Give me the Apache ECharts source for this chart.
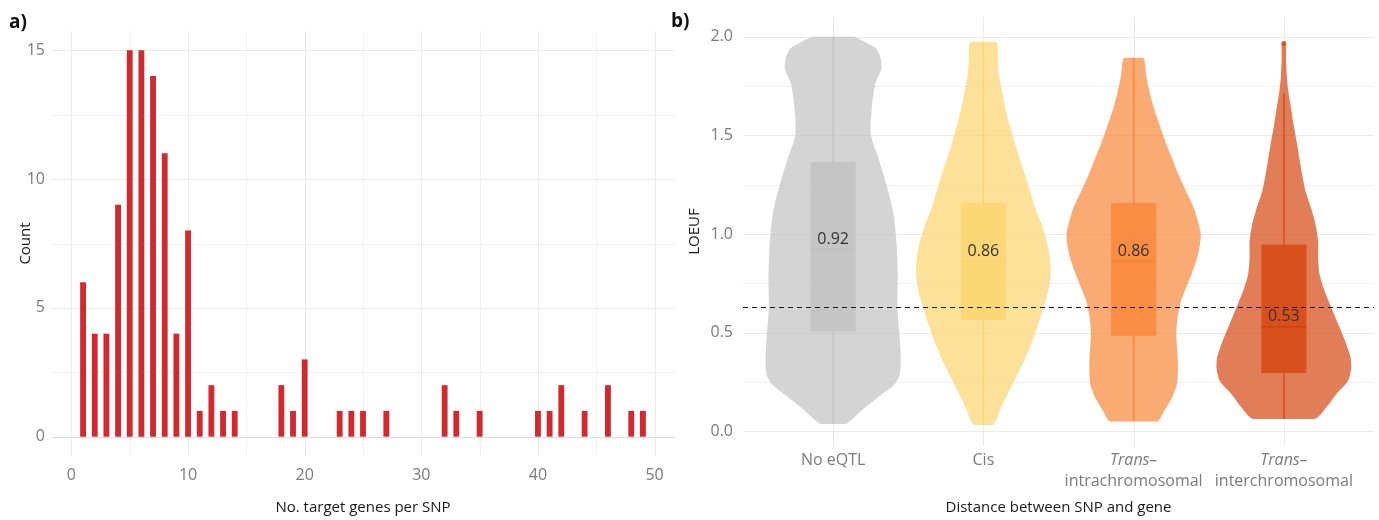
<!DOCTYPE html>
<html><head><meta charset="utf-8">
<script src="https://cdn.jsdelivr.net/npm/echarts@6/dist/echarts.min.js"></script>
<style>html,body{margin:0;padding:0;background:#fff}#c{width:1379px;height:520px}</style>
</head><body><div id="c"></div>
<script>
// ---------- Panel a) data ----------
const targetGenes = [1,2,3,4,5,6,7,8,9,10,11,12,13,14,18,19,20,23,24,25,27,32,33,35,40,41,42,44,46,48,49];
const snpCounts   = [6,4,4,9,15,15,14,11,4,8,1,2,1,1,2,1,3,1,1,1,1,2,1,1,1,1,2,1,2,1,1];
const histXTicks = [0,10,20,30,40,50];
const histXMinor = [5,15,25,35,45];
const histYTicks = [0,5,10,15];
const histYMinor = [2.5,7.5,12.5];

// ---------- Panel b) data ----------
const categories = ['No eQTL','Cis','Trans–intrachromosomal','Trans–interchromosomal'];
const categoryPos = [1,2,3,4];
const loeufTicks = [0,0.5,1,1.5,2];
const loeufMinor = [0.25,0.75,1.25,1.75];
// violin outlines: [LOEUF, half width (category units)] from top to bottom
const violinNoEqtl = [[2.0,0.132],[1.97,0.22],[1.94,0.285],[1.89,0.317],[1.84,0.321],[1.756,0.279],[1.638,0.257],[1.503,0.251],[1.385,0.301],[1.25,0.355],[1.115,0.399],[0.964,0.421],[0.795,0.430],[0.627,0.428],[0.458,0.444],[0.374,0.450],[0.29,0.444],[0.239,0.410],[0.172,0.299],[0.104,0.188],[0.037,0.082]];
const violinCis = [[1.975,0.086],[1.89,0.096],[1.806,0.104],[1.722,0.125],[1.638,0.146],[1.553,0.175],[1.469,0.206],[1.385,0.240],[1.3,0.277],[1.217,0.311],[1.132,0.344],[1.048,0.388],[0.964,0.421],[0.88,0.444],[0.795,0.448],[0.711,0.432],[0.627,0.401],[0.543,0.366],[0.458,0.326],[0.374,0.281],[0.29,0.228],[0.206,0.173],[0.121,0.118],[0.032,0.065]];
const violinTransIntra = [[1.894,0.063],[1.806,0.083],[1.722,0.105],[1.638,0.135],[1.553,0.173],[1.469,0.211],[1.385,0.255],[1.3,0.299],[1.217,0.349],[1.132,0.401],[1.048,0.434],[0.997,0.447],[0.913,0.434],[0.829,0.401],[0.745,0.359],[0.66,0.315],[0.576,0.293],[0.492,0.284],[0.408,0.291],[0.324,0.295],[0.239,0.288],[0.172,0.257],[0.104,0.204],[0.049,0.155]];
const violinTransInter = [[1.975,0.010],[1.958,0.015],[1.89,0.015],[1.806,0.019],[1.722,0.030],[1.638,0.048],[1.553,0.065],[1.469,0.085],[1.385,0.103],[1.3,0.122],[1.217,0.144],[1.132,0.181],[1.048,0.211],[0.964,0.228],[0.88,0.228],[0.795,0.238],[0.711,0.271],[0.627,0.316],[0.543,0.361],[0.458,0.407],[0.374,0.444],[0.324,0.449],[0.256,0.427],[0.189,0.349],[0.121,0.283],[0.062,0.205]];
const boxQ1 = [0.505,0.563,0.484,0.295];
const boxQ3 = [1.365,1.157,1.157,0.947];
const medians = [0.92,0.86,0.86,0.53];
const whiskerLow = [0.037,0.032,0.049,0.062];
const whiskerHigh = [2.0,1.975,1.894,1.714];
const outliersInter = [1.966];
const thresholdLOEUF = 0.63;

// ---------- styles ----------
const FONT = '"Open Sans", "Noto Sans", sans-serif';
const TICK_COLOR = '#7b7b7b';
const TITLE_COLOR = '#1a1a1a';
const GRID_MAJOR = '#ebebeb';
const GRID_MINOR = '#f2f2f2';
const BAR_COLOR = '#d1292f';
const BASE_COLORS = [[190,190,190],[252,210,100],[247,126,43],[210,58,0]];
const ALPHA = 0.66;
const rgba = (c,a) => `rgba(${c[0]},${c[1]},${c[2]},${a})`;
const violins = [violinNoEqtl, violinCis, violinTransIntra, violinTransInter];

const A = {xMin:-1.75, xMax:51.75, yMin:-0.75, yMax:15.75};
const B = {xMin:0.4, xMax:4.6, yMin:-0.075, yMax:2.1};
const near = (arr, v) => arr.some(t => Math.abs(t - v) < 1e-6);
const crisp = v => Math.round(v) + 0.5;

function gridLines(idx, orient, values, color, ext) {
  return {
    type:'custom', xAxisIndex:idx, yAxisIndex:idx, silent:true, z:0,
    data: values.map(v => orient === 'h' ? [ext.xMin, v] : [v, ext.yMin]),
    encode:{x:0,y:1},
    renderItem(params, api) {
      const cs = params.coordSys;
      const p = api.coord([api.value(0), api.value(1)]);
      if (orient === 'h') {
        const y = crisp(p[1]);
        return {type:'line', shape:{x1:cs.x, y1:y, x2:cs.x+cs.width, y2:y}, style:{stroke:color, lineWidth:1}};
      }
      const x = crisp(p[0]);
      return {type:'line', shape:{x1:x, y1:cs.y, x2:x, y2:cs.y+cs.height}, style:{stroke:color, lineWidth:1}};
    }
  };
}

const chart = echarts.init(document.getElementById('c'), null, {renderer:'canvas'});

const option = {
  backgroundColor:'#fff',
  animation:false,
  textStyle:{fontFamily:FONT},
  title:[
    {text:'a)', left:9, top:13, padding:0, textStyle:{fontSize:19, fontWeight:'bold', color:'#111', fontFamily:FONT}},
    {text:'b)', left:671, top:12, padding:0, textStyle:{fontSize:19, fontWeight:'bold', color:'#111', fontFamily:FONT}}
  ],
  grid:[
    {left:51, top:31, width:624, height:428},
    {left:743, top:17, width:631, height:430}
  ],
  xAxis:[
    {type:'value', gridIndex:0, min:A.xMin, max:A.xMax, interval:0.25,
     axisLine:{show:false}, axisTick:{show:false}, splitLine:{show:false},
     axisLabel:{color:TICK_COLOR, fontSize:16, fontFamily:FONT, margin:11,
       formatter:v => near(histXTicks, v) ? String(Math.round(v)) : ''},
     name:'No. target genes per SNP', nameLocation:'middle', nameGap:44, nameMoveOverlap:false,
     nameTextStyle:{color:TITLE_COLOR, fontSize:15, fontFamily:FONT}},
    {type:'value', gridIndex:1, min:B.xMin, max:B.xMax, interval:0.2,
     axisLine:{show:false}, axisTick:{show:false}, splitLine:{show:false},
     axisLabel:{color:TICK_COLOR, fontSize:16, fontFamily:FONT, margin:4, lineHeight:21,
       formatter:v => {
         const i = categoryPos.findIndex(p => Math.abs(p - v) < 1e-6);
         if (i < 0) return '';
         const name = categories[i];
         if (name.indexOf('–') > 0) {
           const parts = name.split('–');
           return '{it|' + parts[0] + '–}\n{n|' + parts[1] + '}';
         }
         return '{n|' + name + '}';
       },
       rich:{
         it:{fontStyle:'italic', color:TICK_COLOR, fontSize:16, fontFamily:FONT, lineHeight:21},
         n:{color:TICK_COLOR, fontSize:16, fontFamily:FONT, lineHeight:21}
       }},
     name:'Distance between SNP and gene', nameLocation:'middle', nameGap:54, nameMoveOverlap:false,
     nameTextStyle:{color:TITLE_COLOR, fontSize:15, fontFamily:FONT}}
  ],
  yAxis:[
    {type:'value', gridIndex:0, min:A.yMin, max:A.yMax, interval:0.25,
     axisLine:{show:false}, axisTick:{show:false}, splitLine:{show:false},
     axisLabel:{color:TICK_COLOR, fontSize:16, fontFamily:FONT, margin:6,
       formatter:v => near(histYTicks, v) ? String(Math.round(v)) : ''},
     name:'Count', nameLocation:'middle', nameGap:18, nameMoveOverlap:false,
     nameTextStyle:{color:TITLE_COLOR, fontSize:15, fontFamily:FONT}},
    {type:'value', gridIndex:1, min:B.yMin, max:B.yMax, interval:0.025,
     axisLine:{show:false}, axisTick:{show:false}, splitLine:{show:false},
     axisLabel:{color:TICK_COLOR, fontSize:16, fontFamily:FONT, margin:10,
       formatter:v => near(loeufTicks, v) ? v.toFixed(1) : ''},
     name:'LOEUF', nameLocation:'middle', nameGap:41, nameMoveOverlap:false,
     nameTextStyle:{color:TITLE_COLOR, fontSize:15, fontFamily:FONT}}
  ],
  series:[
    gridLines(0,'h',histYMinor,GRID_MINOR,A),
    gridLines(0,'v',histXMinor,GRID_MINOR,A),
    gridLines(0,'h',histYTicks.filter(v=>v!==0),GRID_MAJOR,A),
    gridLines(0,'v',histXTicks,GRID_MAJOR,A),
    gridLines(0,'h',[0],'#dcdcdc',A),
    gridLines(1,'h',loeufMinor,GRID_MINOR,B),
    gridLines(1,'h',loeufTicks,GRID_MAJOR,B),
    gridLines(1,'v',categoryPos,GRID_MAJOR,B),
    {
      type:'custom', xAxisIndex:0, yAxisIndex:0, z:2,
      data: targetGenes.map((g,i) => [g, snpCounts[i]]),
      encode:{x:0,y:1},
      renderItem(params, api) {
        const x = api.value(0), c = api.value(1);
        const tl = api.coord([x - 0.25, c]);
        const br = api.coord([x + 0.25, 0]);
        return {type:'rect', shape:{x:tl[0], y:tl[1], width:br[0]-tl[0], height:br[1]-tl[1]}, style:{fill:BAR_COLOR}};
      }
    },
    {
      type:'custom', xAxisIndex:1, yAxisIndex:1, z:2,
      data: categoryPos.map((p,i) => [p, medians[i], i]),
      encode:{x:0,y:1},
      renderItem(params, api) {
        const i = api.value(2);
        const pos = api.value(0);
        const shape = violins[i];
        const pts = [];
        shape.forEach(([v,hw]) => pts.push(api.coord([pos + hw, v])));
        for (let k = shape.length - 1; k >= 0; k--) pts.push(api.coord([pos - shape[k][1], shape[k][0]]));
        const xs = pts.map(p => p[0]), ys = pts.map(p => p[1]);
        const constraint = [[Math.min(...xs), Math.min(...ys)], [Math.max(...xs), Math.max(...ys)]];
        const col = rgba(BASE_COLORS[i], ALPHA);
        const children = [
          {type:'polygon', shape:{points:pts, smooth:0.25, smoothConstraint:constraint}, style:{fill:col}}
        ];
        const cx = api.coord([pos, 0])[0];
        const wTop = api.coord([pos, whiskerHigh[i]]);
        const q3 = api.coord([pos, boxQ3[i]]);
        const q1 = api.coord([pos, boxQ1[i]]);
        const wLow = api.coord([pos, whiskerLow[i]]);
        const bl = api.coord([pos - 0.15, boxQ3[i]]);
        const br = api.coord([pos + 0.15, boxQ1[i]]);
        const med = api.coord([pos, medians[i]]);
        children.push({type:'line', shape:{x1:cx, y1:wTop[1], x2:cx, y2:q3[1]}, style:{stroke:col, lineWidth:1.5}});
        children.push({type:'line', shape:{x1:cx, y1:q1[1], x2:cx, y2:wLow[1]}, style:{stroke:col, lineWidth:1.5}});
        children.push({type:'rect', shape:{x:bl[0], y:bl[1], width:br[0]-bl[0], height:br[1]-bl[1]}, style:{fill:col}});
        children.push({type:'line', shape:{x1:bl[0], y1:med[1], x2:br[0], y2:med[1]}, style:{stroke:col, lineWidth:1.5}});
        if (i === 3) {
          outliersInter.forEach(o => {
            const p = api.coord([pos, o]);
            children.push({type:'circle', shape:{cx:p[0], cy:p[1], r:2.5}, style:{fill:col}});
          });
        }
        children.push({type:'text', style:{text:medians[i].toFixed(2), x:cx, y:med[1]-10, align:'center', verticalAlign:'middle', fill:'#333', fontSize:16, fontFamily:FONT}});
        return {type:'group', children};
      }
    },
    {
      type:'custom', xAxisIndex:1, yAxisIndex:1, z:5, silent:true,
      data:[[B.xMin, thresholdLOEUF]],
      encode:{x:0,y:1},
      renderItem(params, api) {
        const cs = params.coordSys;
        const y = crisp(api.coord([api.value(0), api.value(1)])[1]);
        return {type:'line', shape:{x1:cs.x, y1:y, x2:cs.x+cs.width, y2:y}, style:{stroke:'#1a1a1a', lineWidth:1, lineDash:[5,4]}};
      }
    }
  ]
};
chart.setOption(option);
</script>
</body></html>
